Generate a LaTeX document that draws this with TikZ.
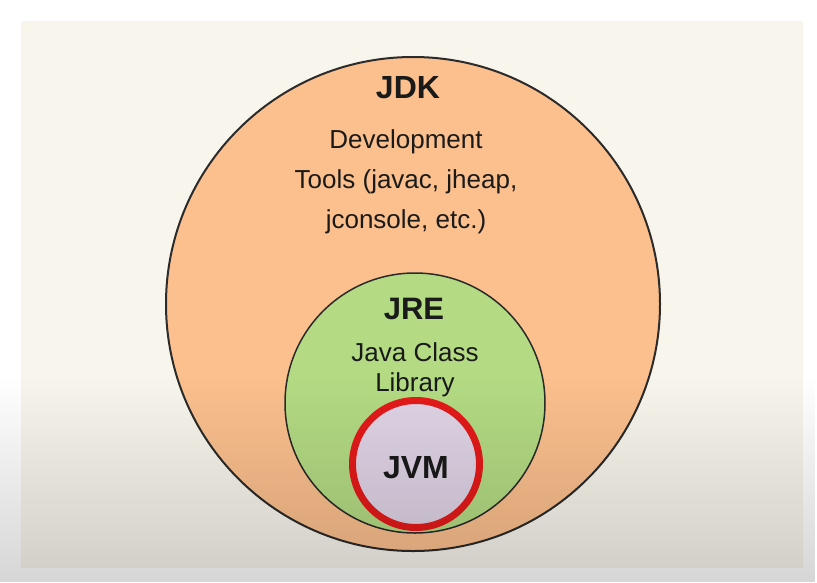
\documentclass[tikz,border=0pt]{standalone}
\usepackage{fontspec}
\setmainfont{Liberation Sans}
\usetikzlibrary{fadings}
\definecolor{cream}{HTML}{F8F5EC}
\definecolor{jdkfill}{HTML}{FCC08E}
\definecolor{jrefill}{HTML}{B4DB84}
\definecolor{jvmfill}{HTML}{E0D4E6}
\definecolor{ringred}{HTML}{E51A1A}
\definecolor{edge}{HTML}{2B2B2B}
\definecolor{ink}{HTML}{1A1A1A}
\tikzset{
  ring/.style={circle, inner sep=0pt, outer sep=0pt},
  title/.style={anchor=base, text=ink, font=\bfseries\fontsize{32}{36}\selectfont, inner sep=0pt},
  body/.style={anchor=base, text=ink, font=\fontsize{26}{30}\selectfont, inner sep=0pt}
}
\begin{document}
\begin{tikzpicture}[x=1pt,y=-1pt]
\useasboundingbox (0,0) rectangle (817,582);
\fill[white] (0,0) rectangle (817,582);
\fill[cream] (21,21) rectangle (803,568);
% circles
\node[ring, draw=edge, line width=2pt, fill=jdkfill, minimum size=494pt] (jdk) at (413,304) {};
\node[ring, draw=edge, line width=1.5pt, fill=jrefill, minimum size=260pt] (jre) at (415,403) {};
\node[ring, draw=ringred, line width=7pt, fill=jvmfill, minimum size=127pt] (jvm) at (416,464) {};
% texts
\node[title] (jdkt) at (408,98) {JDK};
\node[body] (dev1) at (406,148) {Development};
\node[body] (dev2) at (406,188) {Tools (javac, jheap,};
\node[body] (dev3) at (406,228) {jconsole, etc.)};
\node[title, font=\bfseries\fontsize{31}{36}\selectfont] (jret) at (414,319) {JRE};
\node[body] (lib1) at (415,361) {Java Class};
\node[body] (lib2) at (415,391) {Library};
\node[title] (jvmt) at (416,478) {JVM};
% bottom darkening
\fill[black, opacity=0.16, path fading=north] (0,375) rectangle (817,582);
\end{tikzpicture}
\end{document}
